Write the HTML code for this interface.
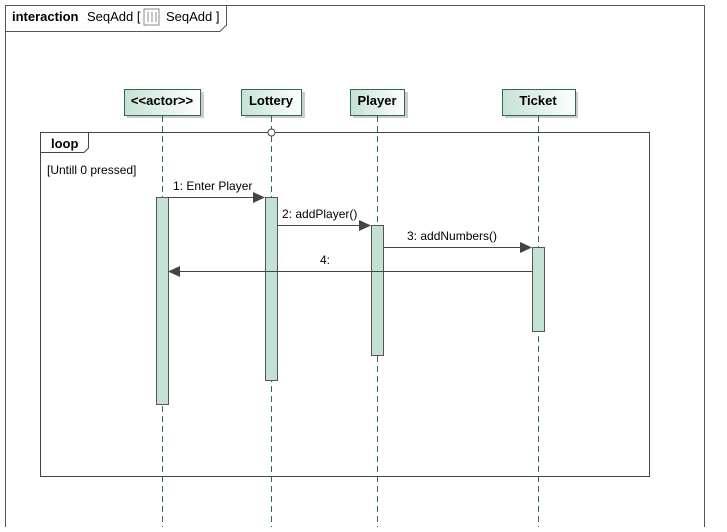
<!DOCTYPE html>
<html><head><style>body{margin:0;background:#fff}</style></head><body>
<svg width="727" height="527" xmlns="http://www.w3.org/2000/svg" font-family="Liberation Sans, sans-serif" font-size="12">
<defs>
<linearGradient id="g" x1="0" x2="1" y1="0" y2="0"><stop offset="0" stop-color="#c4e2d3"/><stop offset="1" stop-color="#ffffff"/></linearGradient>
</defs>
<rect x="5.5" y="5.5" width="699" height="530" fill="none" stroke="#555"/>
<path d="M5.5 31.5 H220 L226.5 25 V5.5" fill="none" stroke="#555"/>
<text x="12" y="21" font-weight="bold" font-size="13">interaction</text>
<text x="87" y="21" font-size="13">SeqAdd [</text>
<rect x="144" y="9" width="15" height="16" fill="#fff" stroke="#888"/>
<path d="M148 12 V22 M152 12 V22 M156 12 V22" stroke="#888"/>
<text x="166" y="21" font-size="13">SeqAdd ]</text>
<g stroke="#2f6b50">
<rect x="127" y="92" width="77" height="26" fill="#ccc" stroke="none"/>
<rect x="124.5" y="89.5" width="76" height="26" fill="url(#g)"/>
<rect x="245" y="92" width="60" height="26" fill="#ccc" stroke="none"/>
<rect x="241.5" y="89.5" width="60" height="26" fill="url(#g)"/>
<rect x="353" y="92" width="55" height="26" fill="#ccc" stroke="none"/>
<rect x="350.5" y="89.5" width="54" height="26" fill="url(#g)"/>
<rect x="505" y="92" width="73" height="26" fill="#ccc" stroke="none"/>
<rect x="502.5" y="89.5" width="73" height="26" fill="url(#g)"/>
</g>
<g font-weight="bold" text-anchor="middle" font-size="13">
<text x="162" y="105">&lt;&lt;actor&gt;&gt;</text>
<text x="271" y="105">Lottery</text>
<text x="377" y="105">Player</text>
<text x="538" y="105">Ticket</text>
</g>
<g stroke="#2f6b50" stroke-dasharray="6,4">
<line x1="162.5" y1="116" x2="162.5" y2="527"/>
<line x1="271.5" y1="116" x2="271.5" y2="527"/>
<line x1="377.5" y1="116" x2="377.5" y2="527"/>
<line x1="538.5" y1="116" x2="538.5" y2="527"/>
</g>
<rect x="40.5" y="132.5" width="609" height="344" fill="none" stroke="#444"/>
<path d="M40.5 152.5 H84 L88.5 148 V132.5" fill="none" stroke="#444"/>
<text x="51" y="148" font-weight="bold" font-size="13">loop</text>
<text x="47" y="174">[Untill 0 pressed]</text>
<circle cx="271.5" cy="132.5" r="3.5" fill="#fff" stroke="#444"/>
<g fill="#c4e2d3" stroke="#555">
<rect x="156.5" y="197.5" width="12" height="207"/>
<rect x="265.5" y="197.5" width="12" height="183"/>
<rect x="371.5" y="225.5" width="12" height="130"/>
<rect x="532.5" y="247.5" width="12" height="84"/>
</g>
<g stroke="#444" fill="#444">
<line x1="168" y1="197.5" x2="256" y2="197.5"/><path d="M265 197.5 L253 192 L253 203Z" stroke="none"/>
<line x1="277" y1="225.5" x2="362" y2="225.5"/><path d="M371 225.5 L359 220 L359 231Z" stroke="none"/>
<line x1="383" y1="247.5" x2="523" y2="247.5"/><path d="M532 247.5 L520 242 L520 253Z" stroke="none"/>
<line x1="177" y1="271.5" x2="532" y2="271.5"/><path d="M168 271.5 L180 266 L180 277Z" stroke="none"/>
</g>
<text x="173" y="190">1:  Enter Player</text>
<text x="282" y="218">2:  addPlayer()</text>
<text x="407" y="240">3:  addNumbers()</text>
<text x="320" y="264">4:</text>
</svg>
</body></html>
